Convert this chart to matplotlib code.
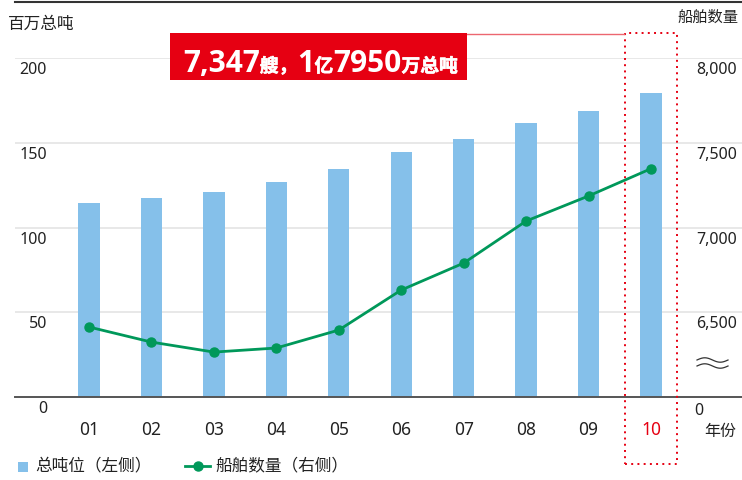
import numpy as np
import matplotlib
matplotlib.use("Agg")
import matplotlib.pyplot as plt
import matplotlib.transforms as mtransforms
import matplotlib.patheffects as pe
from matplotlib.patches import Rectangle
from matplotlib.lines import Line2D
from matplotlib.text import Annotation

plt.rcParams['font.family'] = ['Noto Sans', 'Noto Sans CJK SC', 'DejaVu Sans']

# ---- data ----
years = ["01", "02", "03", "04", "05", "06", "07", "08", "09", "10"]
tonnage = [114.5, 117.4, 121.0, 126.8, 134.5, 144.5, 152.2, 161.7, 168.7, 179.5]   # 百万总吨
ships = [6413, 6324, 6265, 6289, 6395, 6631, 6790, 7038, 7186, 7347]               # 船舶数量
left_ticks = [0, 50, 100, 150, 200]
left_labels = ["0", "50", "100", "150", "200"]
right_ticks = [6500, 7000, 7500, 8000]
right_labels = ["6,500", "7,000", "7,500", "8,000"]
headline = [("7,347", "big"), ("艘", "small"), ("，", "small"), ("1", "big"),
            ("亿", "small"), ("7950", "big"), ("万总吨", "small")]

BAR = "#85c0ea"
GREEN = "#00985a"
RED = "#e60012"
TXT = "#222222"

W, H = 742, 480
fig = plt.figure(figsize=(W / 100, H / 100), dpi=100)

def fx(px):
    return px / W

def fy(py):
    return (H - py) / H

ax_left, ax_right, ax_bot, ax_top = 15, 742, 397, 58
ax = fig.add_axes([fx(ax_left), fy(ax_bot), fx(ax_right - ax_left), (ax_bot - ax_top) / H])
x = np.arange(len(years))
step = (651 - 89) / 9
ax.set_xlim(-(89 - ax_left) / step, 9 + (ax_right - 651) / step)
ax.set_ylim(0, 200)
for s in ax.spines.values():
    s.set_visible(False)
ax.set_xticks([])
ax.set_yticks([])

for t in left_ticks[1:]:
    ax.axhline(t, color="#e4e4e4", lw=1.2, zorder=0)
ax.axhline(0, color="#555555", lw=1.4, zorder=3, clip_on=False)

ax.bar(x, tonnage, width=0.34, color=BAR, zorder=2)

ax2 = ax.twinx()
ax2.set_ylim(6000, 8000)
ax2.set_xlim(ax.get_xlim())
for s in ax2.spines.values():
    s.set_visible(False)
ax2.set_xticks([])
ax2.set_yticks([])
ax2.plot(x, ships, color=GREEN, lw=2.0, marker="o", markersize=6.5, zorder=4)

off = mtransforms.ScaledTranslation(0, -12 / 100, fig.dpi_scale_trans)
tl = mtransforms.blended_transform_factory(fig.transFigure, ax.transData) + off
for t, lab in zip(left_ticks, left_labels):
    ax.text(fx(47), t, lab, transform=tl, ha="right", va="center", fontsize=11.5, color=TXT)

tr = mtransforms.blended_transform_factory(fig.transFigure, ax2.transData) + off
for t, lab in zip(right_ticks, right_labels):
    ax2.text(fx(737), t, lab, transform=tr, ha="right", va="center", fontsize=11.5, color=TXT)
fig.text(fx(694), fy(411), "0", ha="left", va="center", fontsize=11.5, color=TXT)

tx = mtransforms.blended_transform_factory(ax.transData, fig.transFigure)
for i, lab in enumerate(years):
    c = RED if i == len(years) - 1 else TXT
    ax.text(i, fy(430), lab, transform=tx, ha="center", va="center", fontsize=12.5, color=c)
fig.text(fx(720), fy(432), "年份", ha="center", va="center", fontsize=11.5, color=TXT)

fig.text(fx(8), fy(25), "百万总吨", ha="left", va="center", fontsize=12, color=TXT)
fig.text(fx(738), fy(18), "船舶数量", ha="right", va="center", fontsize=11, color=TXT)

fig.add_artist(Line2D([fx(15), 1], [fy(1.5), fy(1.5)], color="#333333", lw=1.5))

xs = np.linspace(697, 728, 60)
for yc in (360, 366):
    ys = yc - 2.2 * np.sin((xs - 697) / 31 * 2 * np.pi)
    fig.add_artist(Line2D(fx(xs), fy(ys), color="#333333", lw=0.9))

fig.add_artist(Rectangle((fx(625), fy(464)), fx(677 - 625), (464 - 33) / H, fill=False,
                         edgecolor=RED, lw=1.4, linestyle=(0, (1, 2.2))))
fig.add_artist(Line2D([fx(467), fx(624)], [fy(34), fy(34)], color="#ec6670", lw=1.0))

box = Rectangle((fx(170), fy(80)), fx(467 - 170), (80 - 33) / H,
                facecolor=RED, edgecolor="none", zorder=5)
fig.add_artist(box)
sizes = {"big": 21.5, "small": 13.5}
prev = None
base = H - 72
hfam = ['Open Sans', 'Noto Sans CJK SC', 'DejaVu Sans']
for txt, kind in headline:
    kw = dict(ha="left", va="baseline", fontsize=sizes[kind], fontweight="bold",
              family=hfam, color="white", zorder=6)
    if kind == "small":
        kw["path_effects"] = [pe.withStroke(linewidth=0.4, foreground="white")]
    if prev is None:
        a = Annotation(txt, xy=(183, base), xycoords="figure pixels", **kw)
    else:
        a = Annotation(txt, xy=(1, base), xycoords=(prev, "figure pixels"), **kw)
    fig.add_artist(a)
    prev = a

fig.add_artist(Rectangle((fx(18), fy(472)), fx(10), 10 / H, facecolor=BAR, edgecolor="none"))
fig.text(fx(35), fy(466), "总吨位（左侧）", ha="left", va="center", fontsize=12, color=TXT)
fig.add_artist(Line2D([fx(185), fx(210)], [fy(466), fy(466)], color=GREEN, lw=2.0))
fig.add_artist(Line2D([fx(197.5)], [fy(466)], color=GREEN, marker="o", markersize=6.5))
fig.text(fx(215), fy(466), "船舶数量（右侧）", ha="left", va="center", fontsize=12, color=TXT)

fig.savefig("out.png", dpi=100)
